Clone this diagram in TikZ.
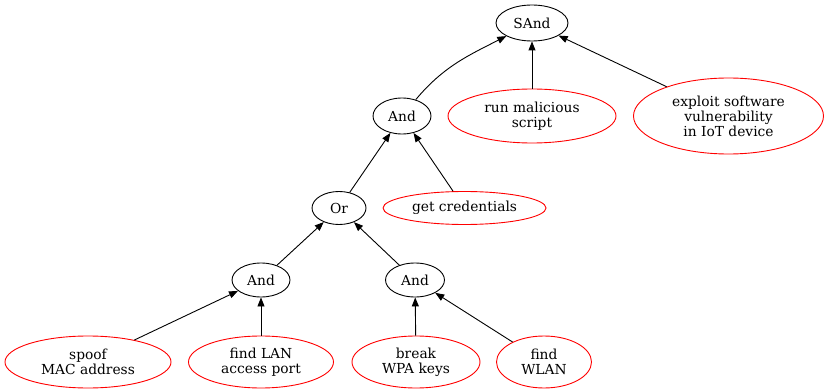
\documentclass[tikz,border=0pt]{standalone}
\usepackage{fontspec}
\setmainfont{DejaVu Serif}
\usetikzlibrary{shapes.geometric,arrows.meta}
\begin{document}
\begin{tikzpicture}[x=1pt,y=-1pt,
  every node/.style={font=\fontsize{13.8}{15}\selectfont},
  gate/.style={ellipse,draw=black,line width=0.9pt,inner sep=0pt,align=center},
  leaf/.style={ellipse,draw=red,line width=0.9pt,inner sep=0pt,align=center},
  arr/.style={line width=0.9pt,-{Triangle[length=9pt,width=7pt]}}]
\useasboundingbox (0,0) rectangle (824,390);
\node[gate,minimum width=72,minimum height=36] (sand) at (532,23) {SAnd};
\node[gate,minimum width=58,minimum height=36] (andT) at (402,116) {And};
\node[leaf,minimum width=168,minimum height=54] (run) at (532,116) {run malicious\\script};
\node[leaf,minimum width=190,minimum height=76] (expl) at (728.5,116) {exploit software\\vulnerability\\in IoT device};
\node[gate,minimum width=54,minimum height=33] (or) at (339,208) {Or};
\node[leaf,minimum width=163,minimum height=33] (cred) at (464.5,208) {get credentials};
\node[gate,minimum width=58,minimum height=34] (andL) at (261,280) {And};
\node[gate,minimum width=59,minimum height=34] (andR) at (415,280) {And};
\node[leaf,minimum width=166,minimum height=52] (spoof) at (88,362) {spoof\\MAC address};
\node[leaf,minimum width=145,minimum height=52] (lan) at (261,362) {find LAN\\access port};
\node[leaf,minimum width=128,minimum height=52] (wpa) at (416,362) {break\\WPA keys};
\node[leaf,minimum width=95,minimum height=52] (wlan) at (544,362) {find\\WLAN};
\draw[arr] (andT) to[out=50,in=207] (sand);
\draw[arr] (run) -- (sand);
\draw[arr] (expl) -- (sand);
\draw[arr] (or) -- (andT);
\draw[arr] (cred) -- (andT);
\draw[arr] (andL) -- (or);
\draw[arr] (andR) -- (or);
\draw[arr] (spoof) -- (andL);
\draw[arr] (lan) -- (andL);
\draw[arr] (wpa) -- (andR);
\draw[arr] (wlan) -- (andR);
\end{tikzpicture}
\end{document}
